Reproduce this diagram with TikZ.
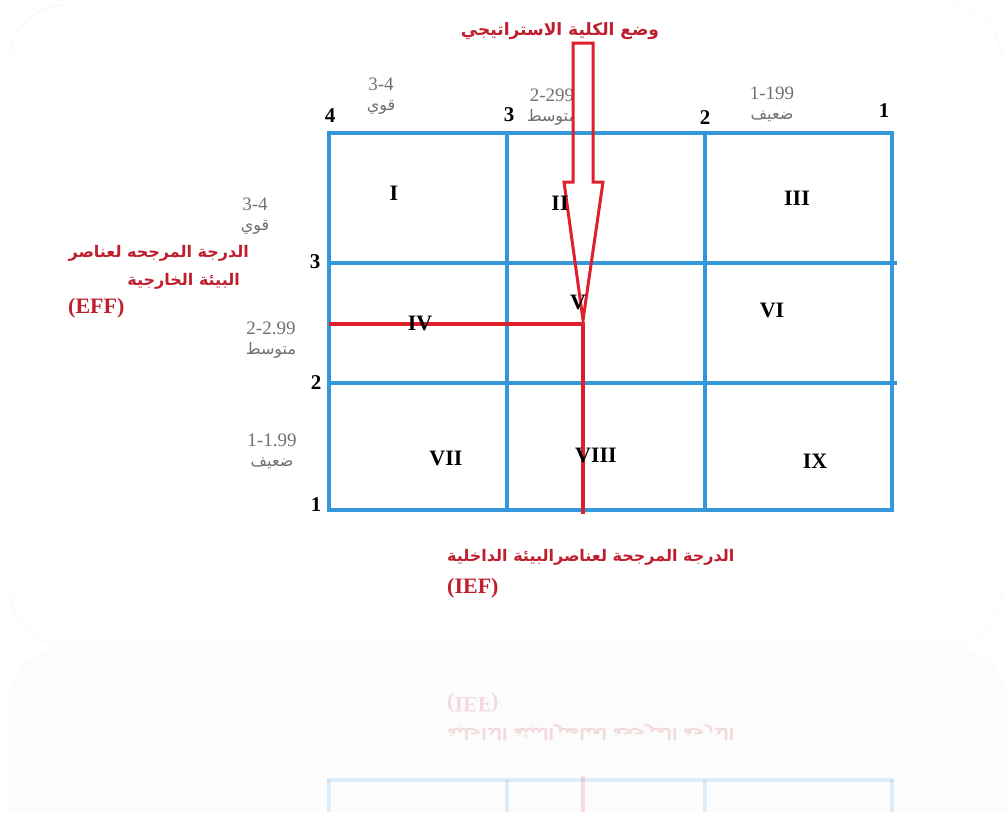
\documentclass[tikz,border=0pt]{standalone}
\usepackage{graphicx}
\usepackage{fontspec}
\setmainfont{Liberation Serif}
\newfontfamily\arabicfont[Script=Arabic]{DejaVu Sans}
\TeXXeTstate=1
\usepackage{xcolor}
\definecolor{gridblue}{RGB}{52,152,219}
\definecolor{arrowred}{RGB}{222,32,44}
\definecolor{labred}{RGB}{190,30,45}
\definecolor{labgray}{RGB}{112,112,112}
\newcommand{\smallar}[1]{{\arabicfont\fontsize{16}{18}\selectfont\beginR #1\endR}}
\newcommand{\redar}[1]{{\arabicfont\bfseries\beginR #1\endR}}

\begin{document}
\begin{tikzpicture}[x=1pt, y=-1pt,
  cellnum/.style={font=\fontsize{22}{22}\selectfont\bfseries, inner sep=0pt},
  cornernum/.style={font=\fontsize{21}{21}\selectfont\bfseries, inner sep=0pt},
  rng/.style={text=labgray, font=\fontsize{19}{20}\selectfont, align=center, inner sep=0pt},
  redlab/.style={text=labred, font=\fontsize{22}{22}\selectfont\bfseries, inner sep=0pt},
  arlab/.style={text=labred, font=\fontsize{17}{17}\selectfont, inner sep=0pt},
  arlabs/.style={arlab, font=\fontsize{16}{16}\selectfont},
  gridline/.style={gridblue, line width=4pt},
  redline/.style={arrowred, line width=3.5pt}]
  \path[use as bounding box, fill=white] (0,0) rectangle (1007,812);
  % frame and reflection band
  \draw[black!5, rounded corners=55] (10,5) rectangle (1002,645);
  \fill[black!1, rounded corners=55] (8,812) -- (8,647) -- (1007,647) -- (1007,812);
  % titles
  \node[arlab] (title) at (560,31) {\redar{وضع الكلية الاستراتيجي}};
  \node[arlabs, anchor=east] (eff1) at (249,253) {\redar{الدرجة المرجحه لعناصر}};
  \node[arlabs, anchor=east] (eff2) at (240,281) {\redar{البيئة الخارجية}};
  \node[redlab, anchor=west] (eff) at (68,308) {(EFF)};
  \node[arlabs, anchor=west] (ief1) at (447,557) {\redar{الدرجة المرجحة لعناصرالبيئة الداخلية}};
  \node[redlab, anchor=west] (ief) at (447,588) {(IEF)};
  % ranges
  \node[rng] (top4) at (381,96) {3-4\\\smallar{قوي}};
  \node[rng] (top3) at (552,107) {2-299\\\smallar{متوسط}};
  \node[rng] (top2) at (772,104) {1-199\\\smallar{ضعيف}};
  \node[rng] (left4) at (255,216) {3-4\\\smallar{قوي}};
  \node[rng] (left3) at (271,340) {2-2.99\\\smallar{متوسط}};
  \node[rng] (left2) at (272,451) {1-1.99\\\smallar{ضعيف}};
  % arrow body
  \fill[white] (573,43) -- (593,43) -- (593,182) -- (603,182) -- (583,320)
    -- (564,182) -- (573,182) -- cycle;
  % grid
  \foreach \gx in {329,507,705,892}
    \draw[gridline] (\gx,133) -- (\gx,510);
  \draw[gridline] (327,133) -- (894,133);
  \draw[gridline] (329,263) -- (897,263);
  \draw[gridline] (329,383) -- (897,383);
  \draw[gridline] (327,510) -- (894,510);
  % scale numbers
  \node[cornernum] (c4) at (330,116) {4};
  \node[cornernum] (c3) at (509,115) {3};
  \node[cornernum] (c2) at (705,118) {2};
  \node[cornernum] (c1) at (884,111) {1};
  \node[cornernum] (r3) at (315,262) {3};
  \node[cornernum] (r2) at (316,383) {2};
  \node[cornernum] (r1) at (316,505) {1};
  % position of the firm
  \coordinate (effpt) at (329,324);
  \coordinate (pos) at (583,324);
  \coordinate (iefpt) at (583,514);
  \draw[redline] (effpt) -- (pos) -- (iefpt);
  \draw[arrowred, line width=3pt, line join=miter] (573,43) -- (593,43) -- (593,182) -- (603,182)
    -- (583,320) -- (564,182) -- (573,182) -- cycle;
  % cells
  \node[cellnum] (i) at (394,193) {I};
  \node[cellnum] (ii) at (560,203) {II};
  \node[cellnum] (iii) at (797,198) {III};
  \node[cellnum] (iv) at (420,323) {IV};
  \node[cellnum] (v) at (578,302) {V};
  \node[cellnum] (vi) at (772,310) {VI};
  \node[cellnum] (vii) at (446,458) {VII};
  \node[cellnum] (viii) at (596,455) {VIII};
  \node[cellnum] (ix) at (815,461) {IX};
  % faded mirror image
  \begin{scope}[opacity=0.15]
    \node[redlab, anchor=west] (iefm) at (447,703) {\scalebox{1}[-1]{(IEF)}};
    \node[arlabs, anchor=west] (ief1m) at (447,733) {\scalebox{1}[-1]{\redar{الدرجة المرجحة لعناصرالبيئة الداخلية}}};
    \draw[gridline] (327,780) -- (894,780);
    \foreach \gx in {329,507,705,892}
      \draw[gridline] (\gx,780) -- (\gx,812);
    \draw[redline] (583,776) -- (583,812);
  \end{scope}
\end{tikzpicture}
\end{document}
